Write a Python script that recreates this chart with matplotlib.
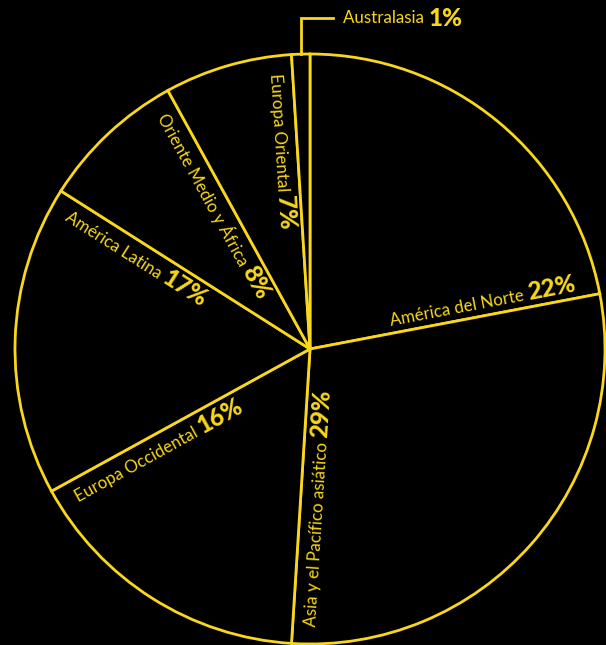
import numpy as np
import matplotlib.pyplot as plt
from matplotlib.font_manager import FontProperties

regions = ["América del Norte", "Asia y el Pacífico asiático", "Europa Occidental",
           "América Latina", "Oriente Medio y África", "Europa Oriental", "Australasia"]
shares = [22, 29, 16, 17, 8, 7, 1]

YELLOW = "#F9D71C"
W, H = 606, 645
cx, cy, R = 310, 296, 295

name_fp = FontProperties(family="Lato", weight="normal", size=12.2)
pct_fp = FontProperties(family="Lato", weight="black", size=17.5)

fig = plt.figure(figsize=(W / 100, H / 100), dpi=100, facecolor="black")
ax = fig.add_axes([0, 0, 1, 1])
ax.set_facecolor("black")
ax.pie(shares, center=(cx, cy), radius=R, startangle=90, counterclock=False,
       wedgeprops=dict(facecolor="black", edgecolor=YELLOW, linewidth=2))
ax.set_xlim(0, W)
ax.set_ylim(0, H)
ax.set_aspect("equal")
ax.axis("off")

renderer = fig.canvas.get_renderer()


def width(s, fp):
    w, h, d = renderer.get_text_width_height_descent(s, fp, ismath=False)
    return w


center = np.array([cx, cy], dtype=float)
cum = np.cumsum(shares)
for i in range(len(shares) - 1):
    th = np.deg2rad(90 - cum[i] * 3.6)
    u = np.array([np.cos(th), np.sin(th)])
    n = np.array([-np.sin(th), np.cos(th)])
    name = regions[i] + " "
    pct = f"{shares[i]}%"
    if np.cos(th) > 0:
        rot = np.rad2deg(th)
        end = center + 0.925 * R * u + 7 * n
        ax.text(*end, pct, fontproperties=pct_fp, color=YELLOW, rotation=rot,
                rotation_mode="anchor", ha="right", va="baseline")
        p = end - width(pct, pct_fp) * u
        ax.text(*p, name, fontproperties=name_fp, color=YELLOW, rotation=rot,
                rotation_mode="anchor", ha="right", va="baseline")
    else:
        rot = np.rad2deg(th) - 180
        start = center + 0.94 * R * u + 23 * n
        ax.text(*start, name, fontproperties=name_fp, color=YELLOW, rotation=rot,
                rotation_mode="anchor", ha="left", va="baseline")
        p = start - width(name, name_fp) * u
        ax.text(*p, pct, fontproperties=pct_fp, color=YELLOW, rotation=rot,
                rotation_mode="anchor", ha="left", va="baseline")

# Australasia: label outside with leader line
th = np.deg2rad(90 - (cum[-2] + shares[-1] / 2) * 3.6)
arc = center + R * np.array([np.cos(th), np.sin(th)])
ly = H - 18
ax.plot([arc[0], arc[0], 333], [arc[1], ly, ly], color=YELLOW, lw=2,
        solid_joinstyle="miter")
ax.text(343, ly, regions[-1] + " ", fontproperties=name_fp, color=YELLOW,
        ha="left", va="center")
ax.text(343 + width(regions[-1] + " ", name_fp), ly, f"{shares[-1]}%",
        fontproperties=pct_fp, color=YELLOW, ha="left", va="center")

fig.savefig("out.png", dpi=100, facecolor="black")
